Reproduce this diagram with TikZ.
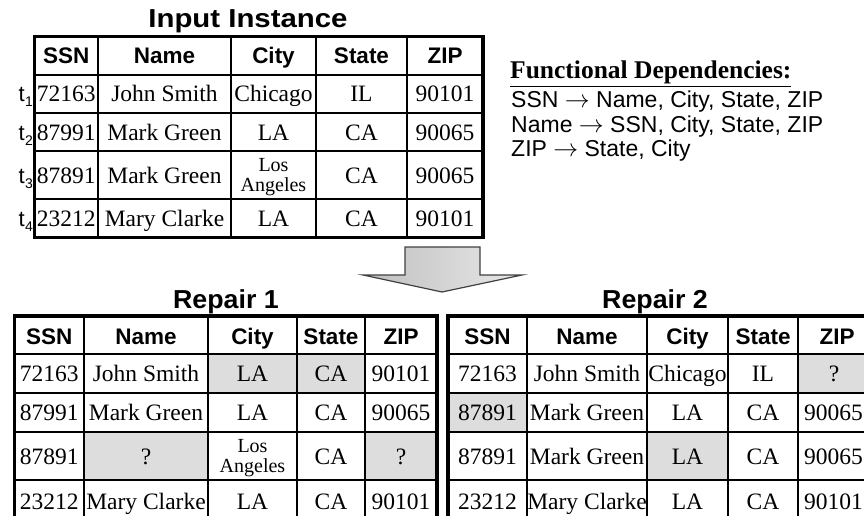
\documentclass[tikz,border=0pt]{standalone}
\usepackage{fontspec}
\setmainfont{Liberation Serif}
\setsansfont{Liberation Sans}
\definecolor{chg}{HTML}{DDDDDD}
\definecolor{arrowline}{HTML}{404040}
\newcommand{\tsub}[1]{t\kern0.3pt\raisebox{-5pt}{\fontsize{14}{14}\selectfont #1}}
\begin{document}
\begin{tikzpicture}[x=1pt,y=-1pt,
  hdr/.style={font=\sffamily\bfseries\fontsize{22.5}{24}\selectfont, inner sep=0pt, anchor=base},
  cell/.style={font=\fontsize{23.5}{24}\selectfont, inner sep=0pt, anchor=base},
  smallcell/.style={font=\fontsize{20}{20}\selectfont, inner sep=0pt, anchor=base},
  ttl/.style={font=\sffamily\bfseries\fontsize{26}{28}\selectfont, inner sep=0pt, anchor=base},
  tlab/.style={font=\sffamily\fontsize{22}{24}\selectfont, inner sep=0pt, anchor=base west},
  fdhead/.style={font=\bfseries\fontsize{25.5}{27}\selectfont, inner sep=0pt, anchor=base west},
  fdline/.style={font=\sffamily\fontsize{23}{24}\selectfont, inner sep=0pt, anchor=base west},
  outer/.style={line width=3.2pt},
  inner/.style={line width=1.8pt},
  changed/.style={fill=chg},
  bigarrow/.style={draw=arrowline, line width=1.2pt, left color=gray!50, right color=gray!18, line join=miter}]
\useasboundingbox (0,0) rectangle (864,516);

% ---------------- Input instance ----------------
\node[ttl] (in-title) at (248,28) {\scalebox{1.13}[1]{Input Instance}};
\foreach \x in {98,231,316,407}
  \draw[inner] (\x,36.5) -- (\x,237.5);
\foreach \y in {75,113,151,199}
  \draw[inner] (34.6,\y) -- (483,\y);
\draw[outer] (34.6,36.5) rectangle (483,237.5);

\foreach \x/\t [count=\c] in {66.3/SSN,164.5/Name,273.5/City,361.5/State,445/ZIP}
  \node[hdr] (in-h\c) at (\x,64) {\t};
\foreach \x/\t [count=\c] in {66.3/72163,164.5/John Smith,273.5/Chicago,361.5/IL,445/90101}
  \node[cell] (in-a\c) at (\x,102) {\t};
\foreach \x/\t [count=\c] in {66.3/87991,164.5/Mark Green,273.5/LA,361.5/CA,445/90065}
  \node[cell] (in-b\c) at (\x,140) {\t};
\foreach \x/\t [count=\c] in {66.3/87891,164.5/Mark Green,361.5/CA,445/90065}
  \node[cell] (in-c\c) at (\x,183) {\t};
\node[smallcell] (in-c-los) at (273.5,171.5) {Los};
\node[smallcell] (in-c-ang) at (273.5,191.5) {Angeles};
\foreach \x/\t [count=\c] in {66.3/23212,164.5/Mary Clarke,273.5/LA,361.5/CA,445/90101}
  \node[cell] (in-d\c) at (\x,226) {\t};

% tuple labels left of the rows
\node[tlab] (t1) at (18.5,102) {\tsub{1}};
\node[tlab] (t2) at (18.5,140) {\tsub{2}};
\node[tlab] (t3) at (18.5,183) {\tsub{3}};
\node[tlab] (t4) at (18.5,226) {\tsub{4}};

% ---------------- Functional dependencies ----------------
\node[fdhead] (fd-head) at (510,79) {\underline{Functional Dependencies:}};
\node[fdline] (fd1) at (511,107) {SSN $\rightarrow$ Name, City, State, ZIP};
\node[fdline] (fd2) at (511,132) {Name $\rightarrow$ SSN, City, State, ZIP};
\node[fdline] (fd3) at (511,157) {ZIP $\rightarrow$ State, City};

% ---------------- Arrow ----------------
\path[bigarrow] (405,247) -- (480,247) -- (480,275) -- (522,275) -- (442,292)
  -- (363,275) -- (405,275) -- cycle;

% ---------------- Repair 1 ----------------
\node[ttl] (r1-title) at (226,308) {\scalebox{1.03}[1]{Repair 1}};
\fill[changed] (208,354) rectangle (365,393);
\fill[changed] (84,432) rectangle (208,480);
\fill[changed] (365,432) rectangle (437,480);
\foreach \x in {84,208,297,365}
  \draw[inner] (\x,316) -- (\x,522);
\foreach \y in {354,393,432,480}
  \draw[inner] (14.5,\y) -- (437,\y);
\draw[outer] (14.5,316) rectangle (437,522);

\foreach \x/\t [count=\c] in {49.25/SSN,146/Name,252.5/City,331/State,401/ZIP}
  \node[hdr] (r1-h\c) at (\x,344) {\t};
\foreach \x/\t [count=\c] in {49.25/72163,146/John Smith,252.5/LA,331/CA,401/90101}
  \node[cell] (r1-a\c) at (\x,381.5) {\t};
\foreach \x/\t [count=\c] in {49.25/87991,146/Mark Green,252.5/LA,331/CA,401/90065}
  \node[cell] (r1-b\c) at (\x,420.5) {\t};
\foreach \x/\t [count=\c] in {49.25/87891,146/?,331/CA,401/?}
  \node[cell] (r1-c\c) at (\x,464) {\t};
\node[smallcell] (r1-c-los) at (252.5,452.5) {Los};
\node[smallcell] (r1-c-ang) at (252.5,472.5) {Angeles};
\foreach \x/\t [count=\c] in {49.25/23212,146/Mary Clarke,252.5/LA,331/CA,401/90101}
  \node[cell] (r1-d\c) at (\x,509) {\t};

% ---------------- Repair 2 ----------------
\node[ttl] (r2-title) at (655,308) {\scalebox{1.03}[1]{Repair 2}};
\fill[changed] (798,354) rectangle (876,393);
\fill[changed] (448,393) rectangle (527,432);
\fill[changed] (647,432) rectangle (728,480);
\foreach \x in {527,647,728,798}
  \draw[inner] (\x,316) -- (\x,522);
\foreach \y in {354,393,432,480}
  \draw[inner] (448,\y) -- (876,\y);
\draw[outer] (448,316) rectangle (876,522);

\foreach \x/\t [count=\c] in {487.5/SSN,587/Name,687.5/City,763/State,837/ZIP}
  \node[hdr] (r2-h\c) at (\x,344) {\t};
\foreach \x/\t [count=\c] in {487.5/72163,587/John Smith,687.5/Chicago,763/IL,834/?}
  \node[cell] (r2-a\c) at (\x,381.5) {\t};
\foreach \x/\t [count=\c] in {487.5/87891,587/Mark Green,687.5/LA,763/CA,833.5/90065}
  \node[cell] (r2-b\c) at (\x,420.5) {\t};
\foreach \x/\t [count=\c] in {487.5/87891,587/Mark Green,687.5/LA,763/CA,833.5/90065}
  \node[cell] (r2-c\c) at (\x,464) {\t};
\foreach \x/\t [count=\c] in {487.5/23212,587/Mary Clarke,687.5/LA,763/CA,833.5/90101}
  \node[cell] (r2-d\c) at (\x,509) {\t};
\end{tikzpicture}
\end{document}
